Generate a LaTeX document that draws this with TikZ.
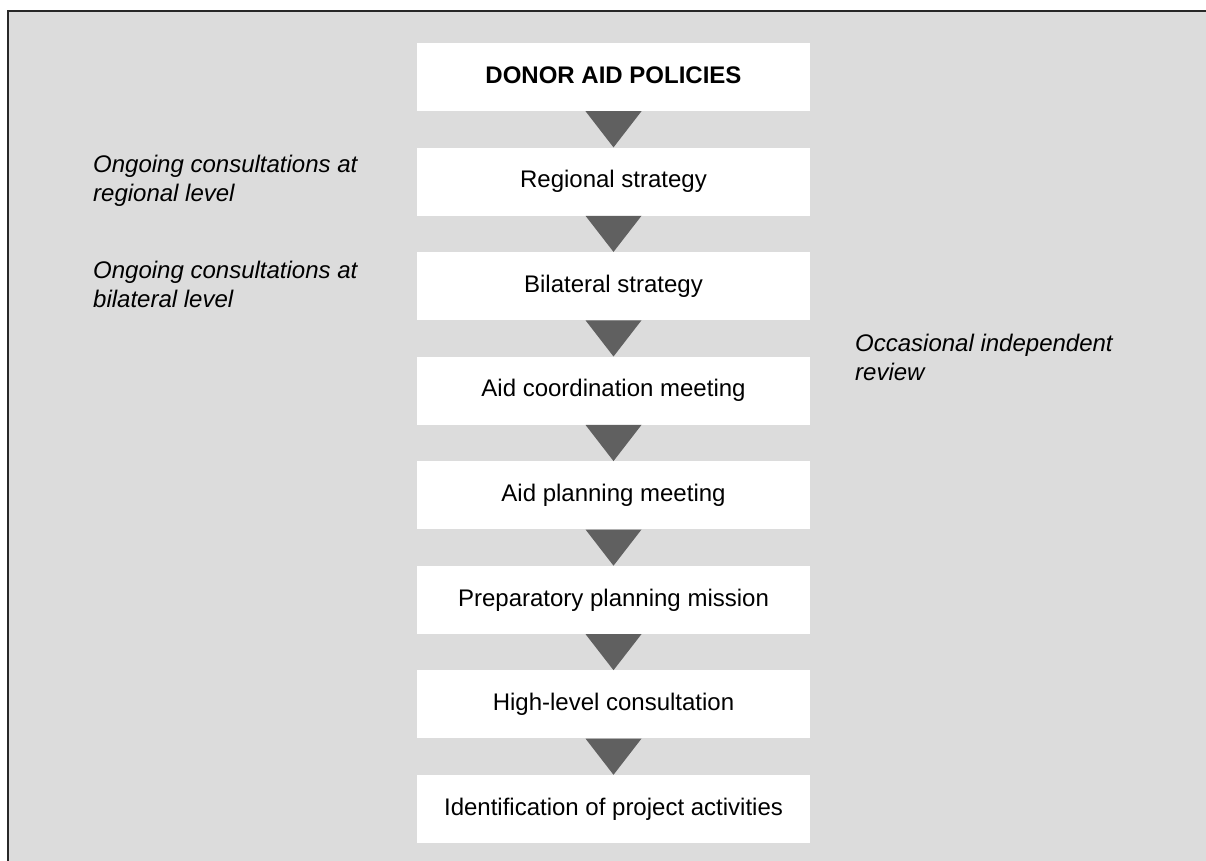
\documentclass[tikz,border=0pt]{standalone}
\usepackage{fontspec}
\setmainfont{Liberation Sans}
\usetikzlibrary{calc}
\definecolor{panelgray}{RGB}{220,220,220}
\definecolor{arrowgray}{RGB}{96,96,96}
\definecolor{framegray}{RGB}{40,40,40}
\begin{document}
\begin{tikzpicture}[x=1pt,y=-1pt,
  stepbox/.style={fill=white, draw=none, minimum width=393pt, minimum height=68pt,
    inner sep=0pt, text height=17.5pt, text depth=5pt,
    font=\fontsize{24}{29}\selectfont},
  note/.style={anchor=north west, inner sep=0pt, align=left,
    font=\fontsize{24}{29}\selectfont\itshape},
  flowarrow/.style={fill=arrowgray, draw=none}]
\useasboundingbox (0,0) rectangle (1206,861);
% panel with its frame on the top and left edges
\fill[panelgray] (8,11) rectangle (1206,861);
\draw[framegray, line width=1.1pt] (8,861) -- (8,11) -- (1206,11);

% the chain of steps
\node[stepbox] (b1) at (613.5,77)   {\bfseries DONOR AID POLICIES};
\node[stepbox] (b2) at (613.5,181.6) {Regional strategy};
\node[stepbox] (b3) at (613.5,286.1) {Bilateral strategy};
\node[stepbox] (b4) at (613.5,390.7) {Aid coordination meeting};
\node[stepbox] (b5) at (613.5,495.3) {Aid planning meeting};
\node[stepbox] (b6) at (613.5,599.9) {Preparatory planning mission};
\node[stepbox] (b7) at (613.5,704.4) {High-level consultation};
\node[stepbox] (b8) at (613.5,809)   {Identification of project activities};

% downward triangles between consecutive steps
\foreach \a/\b in {b1/b2,b2/b3,b3/b4,b4/b5,b5/b6,b6/b7,b7/b8}{
  \fill[flowarrow] ($(\a.south)+(-28,0)$) -- ($(\a.south)+(28,0)$) -- (\b.north) -- cycle;
}

% side notes
\node[note] (n1) at (93,154.5) {Ongoing consultations at\\regional level};
\node[note] (n2) at (93,260.5) {Ongoing consultations at\\bilateral level};
\node[note] (n3) at (855,333.5) {Occasional independent\\review};
\end{tikzpicture}
\end{document}
